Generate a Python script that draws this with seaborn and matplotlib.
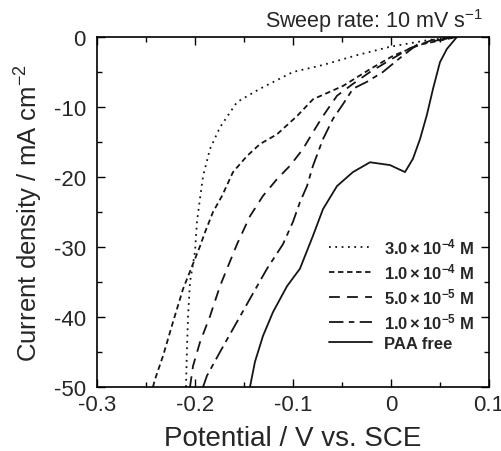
import numpy as np
import pandas as pd
import seaborn as sns
import matplotlib.pyplot as plt
from matplotlib.ticker import MultipleLocator

sns.set_theme(style="ticks")
plt.rcParams['font.family'] = ['Liberation Sans', 'DejaVu Sans']
plt.rcParams['mathtext.fontset'] = 'custom'
plt.rcParams['mathtext.rm'] = 'Liberation Sans'
plt.rcParams['mathtext.bf'] = 'Liberation Sans:bold'
plt.rcParams['mathtext.it'] = 'Liberation Sans:italic'
plt.rcParams['axes.unicode_minus'] = False

# potential (V vs. SCE) and current density (mA cm-2)
e_3e4 = [-0.2092, -0.2082, -0.2071, -0.2051, -0.2000, -0.1980, -0.1949, -0.1918, -0.1847,
         -0.1745, -0.1571, -0.1337, -0.1000, -0.0694, -0.0347, -0.0010, 0.0398, 0.0673]
j_3e4 = [-50.0, -44.6, -39.9, -35.0, -30.7, -26.4, -23.1, -19.9, -16.0,
         -12.9, -9.3, -7.4, -5.0, -4.0, -2.6, -1.4, -0.4, 0.0]

e_1e4 = [-0.2429, -0.2408, -0.2327, -0.2224, -0.2122, -0.1949, -0.1898, -0.1816, -0.1724,
         -0.1612, -0.1469, -0.1337, -0.1163, -0.0959, -0.0796, -0.0490, -0.0214, 0.0020,
         0.0296, 0.0673]
j_1e4 = [-50.0, -48.9, -45.6, -40.7, -36.0, -29.9, -27.9, -25.0, -22.7,
         -19.3, -17.0, -15.3, -13.9, -11.3, -8.9, -7.0, -4.6, -2.7,
         -1.1, 0.0]

e_5e5 = [-0.2051, -0.2020, -0.1949, -0.1847, -0.1745, -0.1673, -0.1571, -0.1439, -0.1306,
         -0.1163, -0.1031, -0.0898, -0.0796, -0.0694, -0.0551, -0.0388, -0.0214, -0.0010,
         0.0194, 0.0429, 0.0673]
j_5e5 = [-50.0, -47.0, -43.6, -39.9, -35.6, -33.1, -29.6, -25.6, -22.7,
         -20.3, -18.4, -16.0, -13.6, -11.3, -8.4, -6.7, -5.0, -3.3,
         -1.6, -0.4, 0.0]

e_1e5 = [-0.1918, -0.1878, -0.1745, -0.1612, -0.1439, -0.1265, -0.1102, -0.1000, -0.0929,
         -0.0857, -0.0796, -0.0694, -0.0592, -0.0490, -0.0388, -0.0245, -0.0082, 0.0092,
         0.0265, 0.0500, 0.0673]
j_1e5 = [-50.0, -48.4, -45.0, -41.7, -37.4, -33.1, -29.6, -26.4, -23.6,
         -21.3, -18.4, -14.6, -11.7, -9.6, -7.4, -6.4, -5.0, -3.0,
         -1.1, -0.4, 0.0]

e_free = [-0.1439, -0.1388, -0.1306, -0.1204, -0.1061, -0.0929, -0.0796, -0.0694, -0.0551,
          -0.0388, -0.0214, -0.0010, 0.0143, 0.0224, 0.0296, 0.0367, 0.0429, 0.0500,
          0.0571, 0.0673]
j_free = [-50.0, -46.4, -42.7, -39.3, -35.6, -33.1, -28.4, -24.6, -21.3,
          -19.3, -17.9, -18.3, -19.3, -17.4, -14.6, -11.1, -7.4, -3.6,
          -1.7, 0.0]

labels = [r"$\mathbf{3.0\times10^{-4}}$ M", r"$\mathbf{1.0\times10^{-4}}$ M",
          r"$\mathbf{5.0\times10^{-5}}$ M", r"$\mathbf{1.0\times10^{-5}}$ M", "PAA free"]
series = [(e_3e4, j_3e4), (e_1e4, j_1e4), (e_5e5, j_5e5), (e_1e5, j_1e5), (e_free, j_free)]
styles = [(0, (1, 2.5)), (0, (3, 2)), (0, (6, 4)), (0, (8, 3, 3, 3)), '-']

fig = plt.figure(figsize=(5.01, 4.52), dpi=100)
ax = fig.add_axes([0.1936, 0.1416, 0.7824, 0.7744])

for (e, j), lab, ls in zip(series, labels, styles):
    df = pd.DataFrame({'E': e, 'j': j})
    sns.lineplot(data=df, x='E', y='j', sort=False, estimator=None, ax=ax,
                 color='#151515', lw=1.3, linestyle=ls, label=lab)

ax.set_xlim(-0.3, 0.1)
ax.set_ylim(-50, 0)
ax.xaxis.set_minor_locator(MultipleLocator(0.05))
ax.yaxis.set_major_locator(MultipleLocator(10))
ax.yaxis.set_minor_locator(MultipleLocator(5))
ax.set_xticks([-0.3, -0.2, -0.1, 0, 0.1])
ax.set_xticklabels(['-0.3', '-0.2', '-0.1', '0', '0.1'])
ax.tick_params(which='both', direction='in', top=True, right=True, labelsize=16,
               color='black', width=1)
ax.tick_params(which='major', length=6)
ax.tick_params(which='minor', length=3.5)
ax.tick_params(axis='y', pad=8)
ax.tick_params(axis='x', pad=5)
for s in ax.spines.values():
    s.set_color('black')
    s.set_linewidth(1.2)

ax.set_xlabel('Potential / V vs. SCE', fontsize=20, labelpad=7)
ax.set_ylabel(r'Current density / mA cm$^{-2}$', fontsize=18.5, labelpad=6)
ax.set_title(r'Sweep rate: 10 mV s$^{-1}$', fontsize=15.5, loc='right', pad=7, x=0.985)

leg = ax.legend(loc='lower right', frameon=False, prop={'weight': 'bold', 'size': 12},
                handlelength=2.6, handletextpad=0.7, labelspacing=0.3,
                bbox_to_anchor=(1.0, 0.06))

fig.savefig('out.png', dpi=100)
